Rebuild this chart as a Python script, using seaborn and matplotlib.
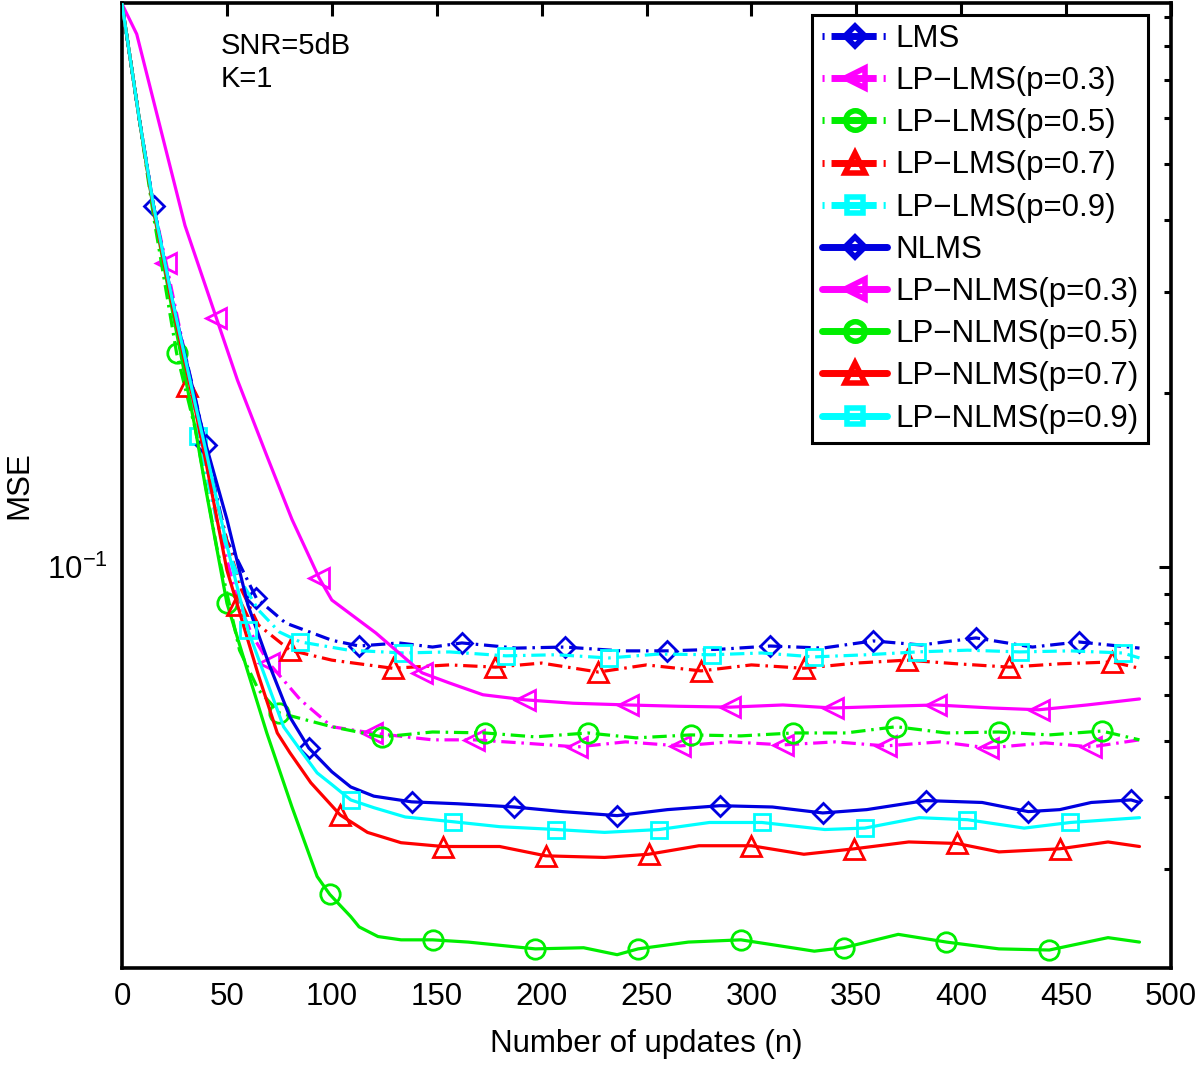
import numpy as np
import matplotlib
matplotlib.use("Agg")
import matplotlib.pyplot as plt
import seaborn as sns
from matplotlib.lines import Line2D
from matplotlib.ticker import FixedLocator, NullFormatter, FixedFormatter

# ---------------- data ----------------
labels = ["LMS", "LP\u2212LMS(p=0.3)", "LP\u2212LMS(p=0.5)", "LP\u2212LMS(p=0.7)",
          "LP\u2212LMS(p=0.9)", "NLMS", "LP\u2212NLMS(p=0.3)", "LP\u2212NLMS(p=0.5)",
          "LP\u2212NLMS(p=0.7)", "LP\u2212NLMS(p=0.9)"]

x_lms = [0, 8, 15, 24, 35, 45, 50, 55, 64, 78, 100, 113, 132, 148, 162, 188, 211, 238, 260, 286,
         309, 334, 358, 381, 407, 434, 456, 485]
y_lms = [0.946, 0.605, 0.423, 0.290, 0.196, 0.133, 0.111, 0.103, 0.0884, 0.0800, 0.0747, 0.0730,
         0.0739, 0.0727, 0.0739, 0.0724, 0.0727, 0.0716, 0.0716, 0.0721, 0.0730, 0.0724, 0.0745,
         0.0733, 0.0754, 0.0727, 0.0742, 0.0724]
m_lms = [15, 64, 113, 162, 211, 260, 309, 358, 407, 456]

x_lp03 = [0, 8, 15, 21, 35, 45, 55, 62, 70, 85, 100, 119, 148, 168, 190, 217, 240, 266, 290, 315,
          340, 364, 390, 413, 440, 462, 485]
y_lp03 = [0.946, 0.605, 0.423, 0.337, 0.191, 0.121, 0.0877, 0.0763, 0.0682, 0.0589, 0.0529,
          0.0516, 0.0502, 0.0502, 0.0496, 0.0488, 0.0498, 0.0490, 0.0498, 0.0492, 0.0498, 0.0490,
          0.0498, 0.0486, 0.0496, 0.0488, 0.0502]
m_lp03 = [21, 70, 119, 168, 217, 266, 315, 364, 413, 462]

x_lp05 = [0, 8, 15, 26, 35, 45, 56, 65, 75, 100, 124, 148, 173, 197, 222, 245, 271, 295, 320, 345,
          369, 393, 418, 442, 467, 485]
y_lp05 = [0.946, 0.605, 0.406, 0.235, 0.173, 0.109, 0.0718, 0.0613, 0.0559, 0.0529, 0.0508,
          0.0518, 0.0516, 0.0508, 0.0516, 0.0506, 0.0512, 0.0510, 0.0516, 0.0516, 0.0529, 0.0516,
          0.0518, 0.0512, 0.0520, 0.0502]
m_lp05 = [26, 75, 124, 173, 222, 271, 320, 369, 418, 467]

x_lp07 = [0, 8, 15, 24, 31, 40, 50, 57, 65, 80, 100, 129, 156, 178, 200, 227, 250, 276, 300, 325,
          350, 374, 398, 423, 447, 472, 485]
y_lp07 = [0.946, 0.605, 0.423, 0.290, 0.206, 0.153, 0.111, 0.0913, 0.0794, 0.0718, 0.0690, 0.0668,
          0.0677, 0.0671, 0.0682, 0.0658, 0.0677, 0.0661, 0.0677, 0.0668, 0.0682, 0.0690, 0.0680,
          0.0671, 0.0680, 0.0685, 0.0668]
m_lp07 = [31, 80, 129, 178, 227, 276, 325, 374, 423, 472]

x_lp09 = [0, 8, 15, 24, 36, 45, 55, 65, 75, 85, 108, 134, 156, 183, 207, 232, 256, 281, 305, 330,
          355, 379, 403, 428, 452, 477, 485]
y_lp09 = [0.946, 0.605, 0.423, 0.290, 0.169, 0.121, 0.0969, 0.0843, 0.0772, 0.0742, 0.0718, 0.0710,
          0.0713, 0.0702, 0.0705, 0.0696, 0.0707, 0.0705, 0.0710, 0.0699, 0.0705, 0.0713, 0.0718,
          0.0713, 0.0716, 0.0710, 0.0696]
m_lp09 = [36, 85, 134, 183, 232, 281, 330, 379, 428, 477]

x_nlms = [0, 8, 15, 24, 35, 40, 50, 60, 70, 80, 89, 100, 109, 120, 138, 160, 187, 210, 236, 260,
          285, 310, 334, 355, 383, 410, 432, 447, 462, 481, 485]
y_nlms = [0.946, 0.605, 0.423, 0.290, 0.1945, 0.163, 0.121, 0.0860, 0.0680, 0.0550, 0.0486, 0.0442,
          0.0416, 0.0401, 0.0392, 0.0389, 0.0384, 0.0377, 0.0371, 0.0380, 0.0386, 0.0384, 0.0375,
          0.0380, 0.0394, 0.0391, 0.0377, 0.0380, 0.0391, 0.0395, 0.0391]
m_nlms = [40, 89, 138, 187, 236, 285, 334, 383, 432, 481]

x_ln03 = [0, 7, 21, 30, 45, 55, 69, 81, 94, 100, 121, 143, 156, 172, 192, 215, 241, 265, 290, 315,
          339, 365, 388, 415, 437, 460, 485]
y_ln03 = [0.946, 0.839, 0.527, 0.391, 0.270, 0.211, 0.156, 0.121, 0.0957, 0.0877, 0.0769, 0.0656,
          0.0630, 0.0601, 0.0589, 0.0581, 0.0577, 0.0574, 0.0572, 0.0577, 0.0570, 0.0574, 0.0577,
          0.0570, 0.0566, 0.0577, 0.0591]
m_ln03 = [45, 94, 143, 192, 241, 290, 339, 388, 437]

x_ln05 = [0, 8, 15, 24, 35, 40, 50, 60, 69, 81, 93, 99, 109, 113, 122, 133, 148, 165, 197, 220,
          236, 246, 270, 295, 330, 344, 370, 393, 418, 442, 470, 485]
y_ln05 = [0.946, 0.605, 0.415, 0.278, 0.173, 0.136, 0.0866, 0.0658, 0.0516, 0.0384, 0.0291, 0.0271,
          0.0248, 0.0238, 0.0229, 0.0226, 0.0226, 0.0224, 0.0218, 0.0219, 0.0213, 0.0218, 0.0224,
          0.0226, 0.0216, 0.0219, 0.0231, 0.0224, 0.0218, 0.0217, 0.0228, 0.0224]
m_ln05 = [50, 99, 148, 197, 246, 295, 344, 393, 442]

x_ln07 = [0, 8, 15, 24, 35, 40, 50, 55, 60, 65, 74, 80, 90, 104, 117, 133, 153, 180, 202, 230, 251,
          275, 300, 325, 349, 375, 398, 418, 447, 470, 485]
y_ln07 = [0.946, 0.605, 0.418, 0.284, 0.187, 0.152, 0.0988, 0.0860, 0.0747, 0.0650, 0.0516, 0.0477,
          0.0423, 0.0372, 0.0347, 0.0333, 0.0328, 0.0328, 0.0316, 0.0314, 0.0318, 0.0329, 0.0329,
          0.0318, 0.0325, 0.0334, 0.0332, 0.0321, 0.0325, 0.0334, 0.0328]
m_ln07 = [55, 104, 153, 202, 251, 300, 349, 398, 447]

x_ln09 = [0, 8, 15, 24, 35, 40, 50, 60, 70, 77, 85, 93, 100, 109, 120, 135, 158, 180, 207, 230, 256,
          280, 305, 335, 354, 380, 403, 430, 452, 485]
y_ln09 = [0.946, 0.605, 0.423, 0.290, 0.191, 0.159, 0.109, 0.0778, 0.0620, 0.0529, 0.0482, 0.0440,
          0.0420, 0.0395, 0.0383, 0.0369, 0.0362, 0.0355, 0.0351, 0.0347, 0.0351, 0.0361, 0.0361,
          0.0351, 0.0353, 0.0368, 0.0365, 0.0353, 0.0361, 0.0368]
m_ln09 = [60, 109, 158, 207, 256, 305, 354, 403, 452]

x_ticks = [0, 50, 100, 150, 200, 250, 300, 350, 400, 450, 500]
annot = ["SNR=5dB", "K=1"]

# ---------------- styling ----------------
sns.set_theme(style="white")
plt.rcParams['font.family'] = ['Liberation Sans', 'DejaVu Sans']
plt.rcParams['mathtext.fontset'] = 'custom'
plt.rcParams['mathtext.rm'] = 'Liberation Sans'
plt.rcParams['mathtext.it'] = 'Liberation Sans:italic'
plt.rcParams['mathtext.bf'] = 'Liberation Sans:bold'
plt.rcParams['text.color'] = 'black'
plt.rcParams['axes.labelcolor'] = 'black'
plt.rcParams['xtick.color'] = 'black'
plt.rcParams['ytick.color'] = 'black'

BLUE, MAG, GRN, RED, CYN = '#0000e0', '#ff00ff', '#00ee00', '#ff0000', '#00ffff'
DASHDOT = (0, (4.5, 1.8, 0.8, 1.8))
LEG_DASHDOT = (0, (0.3, 1.0, 6.5, 1.0))

series = [
    (labels[0], x_lms, y_lms, m_lms, BLUE, DASHDOT, 'D', 10.5),
    (labels[1], x_lp03, y_lp03, m_lp03, MAG, DASHDOT, '<', 15),
    (labels[2], x_lp05, y_lp05, m_lp05, GRN, DASHDOT, 'o', 14),
    (labels[3], x_lp07, y_lp07, m_lp07, RED, DASHDOT, '^', 15),
    (labels[4], x_lp09, y_lp09, m_lp09, CYN, DASHDOT, 's', 12),
    (labels[5], x_nlms, y_nlms, m_nlms, BLUE, '-', 'D', 10.5),
    (labels[6], x_ln03, y_ln03, m_ln03, MAG, '-', '<', 15),
    (labels[7], x_ln05, y_ln05, m_ln05, GRN, '-', 'o', 14),
    (labels[8], x_ln07, y_ln07, m_ln07, RED, '-', '^', 15),
    (labels[9], x_ln09, y_ln09, m_ln09, CYN, '-', 's', 12),
]

fig = plt.figure(figsize=(12, 10.65), dpi=100)
ax = fig.add_axes([0.1017, 0.0911, 0.8741, 0.9061])
ax.set_yscale('log')

handles = []
for lab, xs, ys, mk, col, ls, mrk, ms in series:
    idx = [xs.index(m) for m in mk]
    sns.lineplot(x=xs, y=ys, ax=ax, color=col, linestyle=ls, linewidth=2.3,
                 marker=mrk, markevery=idx, markersize=ms,
                 markerfacecolor='none', markeredgecolor=col, markeredgewidth=2.0,
                 estimator=None, sort=False, legend=False, zorder=3)
    handles.append(Line2D([], [], color=col, linestyle=ls if ls == '-' else LEG_DASHDOT,
                          linewidth=5.0, marker=mrk, markersize=ms, markerfacecolor='none',
                          markeredgecolor=col, markeredgewidth=4.0, label=lab))

ax.set_xlim(0, 500)
ax.set_ylim(0.0202, 0.95)
ax.xaxis.set_major_locator(FixedLocator(x_ticks))
ax.set_xticklabels([str(t) for t in x_ticks])
ax.yaxis.set_major_locator(FixedLocator([0.1]))
ax.yaxis.set_major_formatter(FixedFormatter([r'$10^{-1}$']))
minor = [0.03, 0.04, 0.05, 0.06, 0.07, 0.08, 0.09, 0.2, 0.3, 0.4, 0.5, 0.6, 0.7, 0.8, 0.9]
ax.yaxis.set_minor_locator(FixedLocator(minor))
ax.yaxis.set_minor_formatter(NullFormatter())

ax.tick_params(which='both', direction='in', top=True, right=True, colors='black',
               labelsize=22.5, width=2.2)
ax.tick_params(which='major', length=9, pad=10)
ax.tick_params(which='minor', length=5)
for sp in ax.spines.values():
    sp.set_linewidth(2.6)
    sp.set_color('black')

ax.set_xlabel("Number of updates (n)", fontsize=22.5, labelpad=12)
ax.set_ylabel("MSE", fontsize=22.5)
ax.yaxis.set_label_coords(-0.084, 0.5)

ax.text(0.094, 0.955, annot[0], transform=ax.transAxes, fontsize=21, va='center', ha='left')
ax.text(0.094, 0.921, annot[1], transform=ax.transAxes, fontsize=21, va='center', ha='left')

leg = ax.legend(handles=handles, loc='upper right', bbox_to_anchor=(0.978, 0.988),
                fontsize=22.5, frameon=True, fancybox=False, framealpha=1,
                edgecolor='black', handlelength=2.1, handletextpad=0.25,
                labelspacing=0.39, borderpad=0.3, borderaxespad=0)
leg.get_frame().set_linewidth(2.2)

fig.savefig("out.png", dpi=100)
